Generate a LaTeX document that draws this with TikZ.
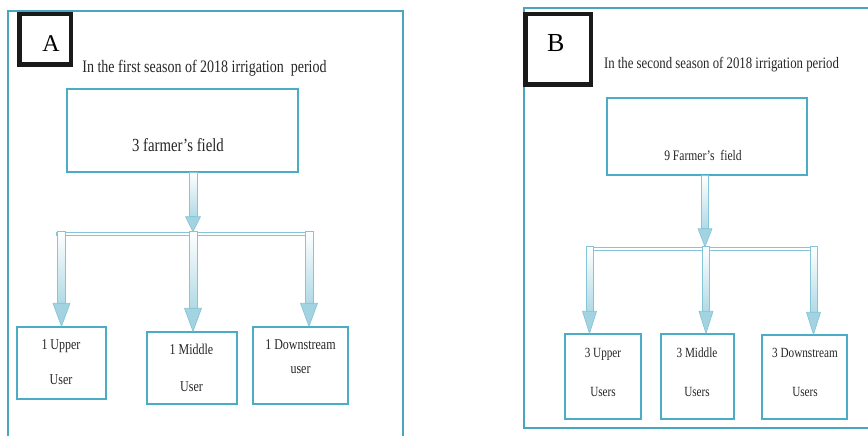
\documentclass[tikz,border=0pt]{standalone}
\usepackage{fontspec}
\setmainfont{Liberation Serif}[FakeStretch=0.8]
\newfontfamily\letterfont{Liberation Serif}
\usetikzlibrary{calc}
\definecolor{frame}{HTML}{47A6C2}
\definecolor{boxline}{HTML}{4BACC6}
\definecolor{arrfill}{HTML}{A3D3E1}
\definecolor{arrline}{HTML}{86C5D8}
\definecolor{labelline}{HTML}{1A1A1A}
\tikzset{
  panel/.style={draw=frame, line width=2.8pt},
  letterbox/.style={draw=labelline, line width=4.5pt, inner sep=0pt},
  letter/.style={inner sep=0pt, text=black},
  title/.style={inner sep=0pt, anchor=center, text=black!85},
  topbox/.style={draw=boxline, line width=1.2pt, inner sep=0pt, fill=white},
  toptext/.style={inner sep=0pt, text=black!85},
  userbox/.style={draw=boxline, line width=1.4pt, inner sep=0pt, fill=white},
  usertext/.style={inner sep=0pt, align=center, text=black!85},
  bar/.style={draw=arrline, fill=white, line width=0.7pt, inner sep=0pt},
  fatstem/.style={draw=arrline, line width=0.7pt, top color=white, bottom color=arrfill!85},
  fathead/.style={draw=arrline, line width=0.7pt, fill=arrfill, line join=round},
}
\newcommand\fatarrow[5]{%
  \shadedraw[fatstem] let \p1=#1, \p2=#2 in
    (\x1-#3pt,\y1) rectangle (\x1+#3pt,\y2+#5pt);
  \filldraw[fathead] let \p1=#1, \p2=#2 in
    (\x1-#4pt,\y2+#5pt) -- (\x1,\y2) -- (\x1+#4pt,\y2+#5pt) -- cycle;}
\begin{document}
\begin{tikzpicture}[x=1pt,y=-1pt]
\useasboundingbox (0,0) rectangle (868,436);
% ---------------- Panel A ----------------
\draw[panel] (8,440) -- (8,11) -- (403,11) -- (403,440);
\node[letterbox, minimum width=51.5pt, minimum height=50.5pt] (boxA) at (45,39.5) {};
\node[letter, font=\letterfont\fontsize{24}{24}\selectfont] (letA) at (51,44) {A};
\node[title, font=\fontsize{17.5}{20}\selectfont] (titA) at (204.5,68) {In the first season of 2018 irrigation~ period};
\node[topbox, minimum width=231pt, minimum height=83pt] (topA) at (182.5,130.5) {};
\node[toptext, font=\fontsize{18.5}{20}\selectfont] (topAt) at (178,145) {3 farmer’s field};
\node[bar, minimum width=257pt, minimum height=3pt] (barA) at (184.5,233.5) {};
\node[userbox, minimum width=89pt, minimum height=72pt] (uA) at (61.5,363) {};
\node[userbox, minimum width=90pt, minimum height=72pt] (mA) at (192,368) {};
\node[userbox, minimum width=95pt, minimum height=77pt] (dA) at (300.5,365.5) {};
\node[usertext, font=\fontsize{15}{18}\selectfont] (uAt) at (61,362.5) {1 Upper\\[17pt]User};
\node[usertext, font=\fontsize{15}{18}\selectfont] (mAt) at (191.5,367.5) {1 Middle\\[19pt]User};
\node[usertext, font=\fontsize{15}{18}\selectfont] (dAt) at (300.5,357) {1 Downstream\\[6pt]user};
\coordinate (xA) at (193,232);
\coordinate (xA3) at (309,327);
\fatarrow{(topA.south -| xA)}{(barA.north -| xA)}{4}{7.5}{15}
\fatarrow{(barA.north -| uA)}{(uA.north)}{4}{8.5}{23}
\fatarrow{(barA.north -| xA)}{(mA.north -| xA)}{4}{8.5}{23}
\fatarrow{(barA.north -| xA3)}{(dA.north -| xA3)}{4}{8.5}{23}
% ---------------- Panel B ----------------
\draw[panel] (872,8) -- (524,8) -- (524,428) -- (872,428);
\node[letterbox, minimum width=65.5pt, minimum height=70.5pt] (boxB) at (558,49.5) {};
\node[letter, font=\letterfont\fontsize{26}{26}\selectfont] (letB) at (555.7,42.6) {B};
\node[title, font=\fontsize{16}{18}\selectfont] (titB) at (721.5,65) {In the second season of 2018 irrigation period};
\node[topbox, minimum width=200pt, minimum height=77pt] (topB) at (707,136.5) {};
\node[toptext, font=\fontsize{14.5}{16}\selectfont] (topBt) at (703,155) {9 Farmer’s~ field};
\node[bar, minimum width=231pt, minimum height=3pt] (barB) at (701.5,248.5) {};
\node[userbox, minimum width=76pt, minimum height=85pt] (uB) at (603,376.5) {};
\node[userbox, minimum width=73pt, minimum height=85pt] (mB) at (697.5,376.5) {};
\node[userbox, minimum width=85pt, minimum height=84pt] (dB) at (804.5,377) {};
\node[usertext, font=\fontsize{14}{17}\selectfont] (uBt) at (603,372.5) {3 Upper\\[22pt]Users};
\node[usertext, font=\fontsize{14}{17}\selectfont] (mBt) at (697,372.5) {3 Middle\\[22pt]Users};
\node[usertext, font=\fontsize{14}{17}\selectfont] (dBt) at (805,372.5) {3 Downstream\\[22pt]Users};
\coordinate (xB) at (705,247);
\coordinate (xB1) at (589.5,334);
\coordinate (xB2) at (706,334);
\coordinate (xB3) at (813.5,334);
\fatarrow{(topB.south -| xB)}{(barB.north -| xB)}{3.5}{7}{18}
\fatarrow{(barB.north -| xB1)}{(uB.north -| xB1)}{3.5}{7}{22}
\fatarrow{(barB.north -| xB2)}{(mB.north -| xB2)}{3.5}{7}{22}
\fatarrow{(barB.north -| xB3)}{(dB.north -| xB3)}{3.5}{7}{22}
\end{tikzpicture}
\end{document}
